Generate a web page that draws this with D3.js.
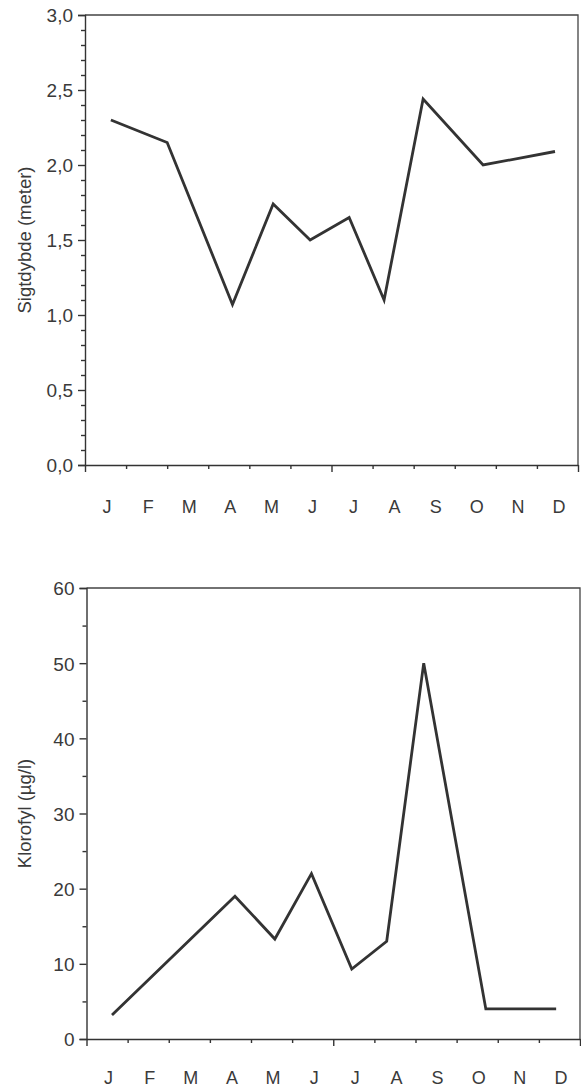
<!DOCTYPE html>
<html>
<head>
<meta charset="utf-8">
<script src="https://cdn.jsdelivr.net/npm/d3@7"></script>
<style>
  body { margin: 0; background: #fff; }
  svg text { font-family: "Liberation Sans", Arial, sans-serif; fill: #3a3a3a; }
</style>
</head>
<body>
<div id="chart"></div>
<script>
// Month labels along the x axis
const months = ["J", "F", "M", "A", "M", "J", "J", "A", "S", "O", "N", "D"];

// Sampling dates as month position (0 = 1 Jan, 12 = 31 Dec)
const sightDates = [0.63, 2.0, 3.59, 4.58, 5.48, 6.43, 7.28, 8.23, 9.69, 11.44];
const sightDepth = [2.30, 2.15, 1.07, 1.74, 1.50, 1.65, 1.10, 2.44, 2.00, 2.09];

const chlDates = [0.62, 3.61, 4.58, 5.47, 6.45, 7.30, 8.20, 9.71, 11.42];
const chlValues = [3.2, 19, 13.3, 22, 9.3, 13, 50, 4, 4];

// Y axis tick values
const sightTicks = [0, 0.5, 1.0, 1.5, 2.0, 2.5, 3.0];
const chlTicks = [0, 10, 20, 30, 40, 50, 60];

const W = 581, H = 1088;
const ink = "#333";

const svg = d3.select("#chart")
  .append("svg")
  .attr("width", W)
  .attr("height", H);

const fmtComma = d => d.toFixed(1).replace(".", ",");

function drawPanel(opts) {
  const { left, right, top, bottom, yMax, yTicks, minorStep, fmt, dates, values, label, labelY } = opts;

  const x = d3.scaleLinear().domain([0, 12]).range([left, right]);
  const y = d3.scaleLinear().domain([0, yMax]).range([bottom, top]);

  const g = svg.append("g");

  // frame (top and right sides)
  g.append("path")
    .attr("d", `M${left},${top}H${right}V${bottom}`)
    .attr("fill", "none")
    .attr("stroke", "#444")
    .attr("stroke-width", 1.3);

  // y axis with major and minor ticks
  const minor = d3.range(0, yMax + 1e-9, minorStep).filter(v => !yTicks.some(t => Math.abs(t - v) < 1e-9));
  g.append("g")
    .attr("transform", `translate(${left},0)`)
    .call(d3.axisLeft(y).tickValues(minor).tickSize(4).tickFormat(""))
    .call(a => a.select(".domain").remove());
  const yAxis = g.append("g")
    .attr("transform", `translate(${left},0)`)
    .call(d3.axisLeft(y).tickValues(yTicks).tickSize(7).tickPadding(5).tickFormat(fmt));
  yAxis.selectAll("text").style("font-size", "19px").attr("dy", "0.36em");

  // x axis: month boundaries, longer ticks at start, mid-year and end
  const xAxis = g.append("g")
    .attr("transform", `translate(0,${bottom})`)
    .call(d3.axisBottom(x).tickValues(d3.range(0, 13)).tickSizeOuter(0).tickFormat(""));
  xAxis.selectAll(".tick line").attr("y2", d => (d % 6 === 0 ? 7 : 4));

  g.selectAll(".domain, .tick line")
    .attr("stroke", ink)
    .attr("stroke-width", 1.4);

  // month labels centred in each month
  g.selectAll(".month")
    .data(months)
    .enter()
    .append("text")
    .attr("class", "month")
    .attr("x", (d, i) => x(i + 0.5) + 1.5)
    .attr("y", labelY)
    .attr("text-anchor", "middle")
    .style("font-size", "18px")
    .text(d => d);

  // y axis title
  g.append("text")
    .attr("transform", `translate(31,${(top + bottom) / 2}) rotate(-90)`)
    .attr("text-anchor", "middle")
    .style("font-size", "18.5px")
    .text(label);

  // data line
  const line = d3.line()
    .x(d => x(d[0]))
    .y(d => y(d[1]));

  g.append("path")
    .datum(dates.map((d, i) => [d, values[i]]))
    .attr("d", line)
    .attr("fill", "none")
    .attr("stroke", ink)
    .attr("stroke-width", 2.8)
    .attr("stroke-linejoin", "miter");
}

drawPanel({
  left: 85, right: 578, top: 15, bottom: 465,
  yMax: 3.0, yTicks: sightTicks, minorStep: 0.1, fmt: fmtComma,
  dates: sightDates, values: sightDepth,
  label: "Sigtdybde (meter)", labelY: 513
});

drawPanel({
  left: 86.5, right: 580, top: 588, bottom: 1039,
  yMax: 60, yTicks: chlTicks, minorStep: 5, fmt: d3.format("d"),
  dates: chlDates, values: chlValues,
  label: "Klorofyl (µg/l)", labelY: 1084
});
</script>
</body>
</html>
